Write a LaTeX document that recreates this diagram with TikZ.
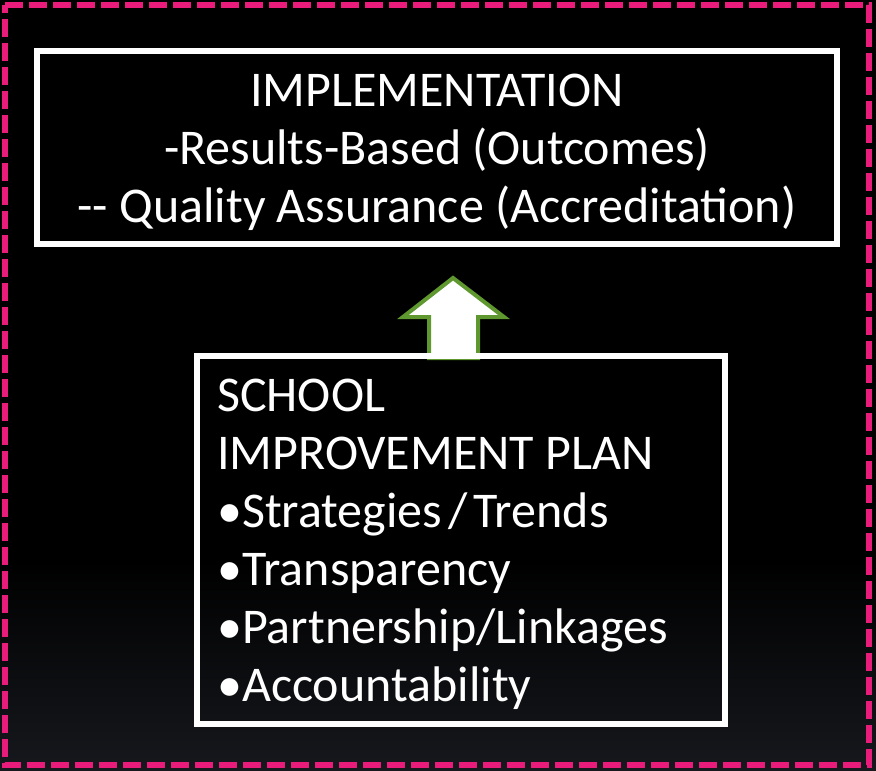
\documentclass[tikz,border=0pt]{standalone}
\usepackage{fontspec}
\setmainfont{Carlito}
\definecolor{pinkb}{RGB}{233,28,124}
\definecolor{arrowgreen}{RGB}{94,152,46}
\definecolor{bottomgray}{RGB}{22,24,29}
\tikzset{
  framebox/.style={draw=white, line width=5.5pt, inner sep=0pt},
  bigtext/.style={text=white, font=\fontsize{50}{58}\selectfont, inner sep=0pt},
}
\begin{document}
\begin{tikzpicture}[x=1pt,y=-1pt]
\useasboundingbox (0,0) rectangle (876,771);
\fill[black] (0,0) rectangle (876,771);
\shade[top color=black, bottom color=bottomgray] (0,560) rectangle (876,771);
\draw[pinkb, line width=5.5pt, dash pattern=on 18pt off 6pt] (5,5) -- (869,5) -- (869,765) -- (5,765) -- cycle;
% top box
\node[framebox, minimum width=800pt, minimum height=193pt] (impl) at (437,147.5) {};
\node[bigtext, align=center, anchor=north] (impltext) at (437,74) {IMPLEMENTATION\\-Results-Based (Outcomes)\\{-}{-} Quality Assurance (Accreditation)};
% arrow
\draw[fill=white, draw=arrowgreen, line width=4pt, line join=miter]
  (453,278) -- (504,317) -- (478,317) -- (478,358) -- (429,358) -- (429,317) -- (403,317) -- cycle;
% bottom box
\node[framebox, minimum width=528pt, minimum height=368pt] (sip) at (461,540) {};
\node[bigtext, align=left, anchor=north west] (siptext) at (217,379) {SCHOOL\\IMPROVEMENT PLAN\\•Strategies\hspace{0.12em}/\hspace{0.12em}Trends\\•Transparency\\•Partnership/Linkages\\•Accountability};
\end{tikzpicture}
\end{document}
